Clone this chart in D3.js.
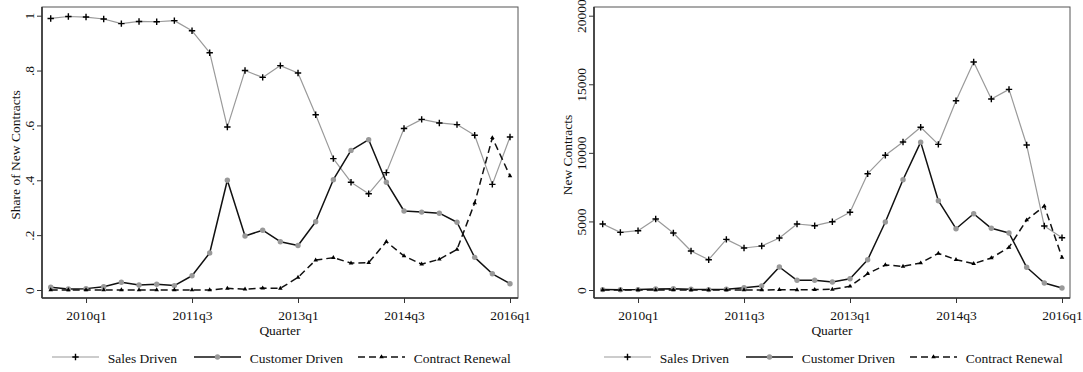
<!DOCTYPE html>
<html><head><meta charset="utf-8">
<script src="https://cdn.jsdelivr.net/npm/d3@7"></script>
<style>
body{margin:0;background:#fff}
text{font-family:"Liberation Serif","Times New Roman",serif;fill:#111}
</style>
</head><body>
<svg id="c" width="1083" height="372"></svg>
<script>
// ---------- data ----------
const quarters = ["2009q3","2009q4","2010q1","2010q2","2010q3","2010q4","2011q1","2011q2","2011q3","2011q4",
  "2012q1","2012q2","2012q3","2012q4","2013q1","2013q2","2013q3","2013q4","2014q1","2014q2",
  "2014q3","2014q4","2015q1","2015q2","2015q3","2015q4","2016q1"];
const xTickLabels = ["2010q1","2011q3","2013q1","2014q3","2016q1"];
const seriesNames = ["Sales Driven","Customer Driven","Contract Renewal"];

const leftSales    = [0.990,0.997,0.995,0.988,0.971,0.979,0.978,0.982,0.945,0.865,0.594,0.800,0.775,0.818,0.791,0.639,0.479,0.393,0.351,0.428,0.589,0.622,0.609,0.603,0.564,0.385,0.558];
const leftCustomer = [0.010,0.004,0.005,0.012,0.028,0.018,0.021,0.016,0.052,0.135,0.400,0.197,0.218,0.176,0.162,0.249,0.402,0.509,0.548,0.393,0.288,0.284,0.280,0.247,0.119,0.059,0.023];
const leftRenewal  = [0.000,0.000,0.000,0.000,0.000,0.000,0.000,0.000,0.000,0.000,0.006,0.003,0.007,0.006,0.046,0.109,0.118,0.098,0.100,0.176,0.124,0.094,0.112,0.148,0.317,0.555,0.416];

const rightSales    = [4811,4204,4325,5176,4155,2843,2211,3694,3062,3208,3791,4811,4690,4981,5666,8480,9820,10789,11870,10620,13800,16621,13924,14630,10570,4666,3813];
const rightCustomer = [30,20,30,80,100,50,30,60,170,292,1677,707,707,583,824,2209,4957,8041,10780,6510,4469,5562,4498,4155,1655,510,146];
const rightRenewal  = [0,0,0,0,0,0,0,0,0,0,20,10,30,50,270,1188,1823,1725,1968,2673,2211,1920,2333,3110,5103,6124,2381];

const leftYTicks = [0,0.2,0.4,0.6,0.8,1];
const leftYTickLabels = ["0",".2",".4",".6",".8","1"];
const rightYTicks = [0,5000,10000,15000,20000];
const rightYTickLabels = ["0","5000","10000","15000","20000"];

// ---------- layout ----------
const svg = d3.select("#c");
svg.append("rect").attr("width",1083).attr("height",372).attr("fill","#fff");

const FW = 476, FT = 7, FB = 298;
const styles = [
  {stroke:"#9a9a9a", width:1.2, dash:null, marker:"plus"},
  {stroke:"#111", width:1.5, dash:null, marker:"circle"},
  {stroke:"#111", width:1.5, dash:"7,4", marker:"tri"}
];

function drawMarker(sel, kind){
  if(kind==="plus"){
    sel.append("path").attr("d","M-3.2,0H3.2M0,-3.2V3.2").attr("stroke","#000").attr("stroke-width",1.4);
  } else if(kind==="circle"){
    sel.append("circle").attr("r",2.7).attr("fill","#999");
  } else {
    sel.append("path").attr("d",d3.symbol(d3.symbolTriangle,9)).attr("fill","#000");
  }
}

function panel(ox, yMax, yTicks, yTickLabels, yTitle, series){
  const g = svg.append("g").attr("transform",`translate(${ox},0)`);
  const x = d3.scaleLinear().domain([0,quarters.length-1]).range([8.7,468]);
  const y = d3.scaleLinear().domain([0,yMax]).range([290,15.7]);

  // frame
  g.append("rect").attr("x",0).attr("y",FT).attr("width",FW).attr("height",FB-FT)
    .attr("fill","none").attr("stroke","#555").attr("stroke-width",1);

  // x axis
  const xt = xTickLabels.map(l=>quarters.indexOf(l));
  const xa = g.append("g").attr("transform",`translate(0,${FB})`)
    .call(d3.axisBottom(x).tickValues(xt).tickFormat(i=>quarters[i]).tickSize(5));
  xa.select(".domain").remove();
  xa.attr("font-family",null).attr("font-size",null);
  xa.selectAll("line").attr("stroke","#333");
  xa.selectAll("text").attr("y",21.5).attr("dy",null).style("font-size","13.5px").attr("fill","#111");
  g.append("line").attr("x1",0).attr("x2",FW).attr("y1",FB).attr("y2",FB).attr("stroke","#333").attr("stroke-width",1.6);

  // y axis
  const ya = g.append("g")
    .call(d3.axisLeft(y).tickValues(yTicks).tickFormat((d,i)=>yTickLabels[i]).tickSize(5));
  ya.select(".domain").remove();
  ya.attr("font-family",null).attr("font-size",null);
  ya.selectAll("line").attr("stroke","#333");
  ya.selectAll("text").attr("transform","rotate(-90)").attr("x",0).attr("y",-8).attr("dy",null)
    .attr("text-anchor","middle").style("font-size","13.5px").attr("fill","#111");
  g.append("line").attr("x1",0).attr("x2",0).attr("y1",FT).attr("y2",FB).attr("stroke","#333").attr("stroke-width",1.6);

  // titles
  g.append("text").attr("transform",`translate(-22,155) rotate(-90)`).attr("text-anchor","middle")
    .style("font-size","13.5px").text(yTitle);
  g.append("text").attr("x",FW/2).attr("y",335).attr("text-anchor","middle")
    .style("font-size","13.5px").text("Quarter");

  // series
  const line = d3.line().x((d,i)=>x(i)).y(d=>y(d));
  series.forEach((s,k)=>{
    const st = styles[k];
    g.append("path").datum(s).attr("d",line).attr("fill","none")
      .attr("stroke",st.stroke).attr("stroke-width",st.width)
      .attr("stroke-dasharray",st.dash).attr("stroke-linejoin","round");
    g.append("g").selectAll("g").data(s).join("g")
      .attr("transform",(d,i)=>`translate(${x(i)},${y(d)})`)
      .each(function(){ drawMarker(d3.select(this), st.marker); });
  });

  // legend
  const legX = [10,152,316];
  seriesNames.forEach((n,k)=>{
    const st = styles[k];
    const lg = g.append("g").attr("transform",`translate(${legX[k]},357)`);
    lg.append("line").attr("x1",0).attr("x2",47).attr("stroke",st.stroke)
      .attr("stroke-width",st.width).attr("stroke-dasharray",st.dash);
    drawMarker(lg.append("g").attr("transform","translate(23.5,0)"), st.marker);
    lg.append("text").attr("x",55.7).attr("y",5.5).style("font-size","13.5px").text(n);
  });
}

panel(42, 1, leftYTicks, leftYTickLabels, "Share of New Contracts", [leftSales,leftCustomer,leftRenewal]);
panel(594, 20000, rightYTicks, rightYTickLabels, "New Contracts", [rightSales,rightCustomer,rightRenewal]);
</script>
</body></html>
